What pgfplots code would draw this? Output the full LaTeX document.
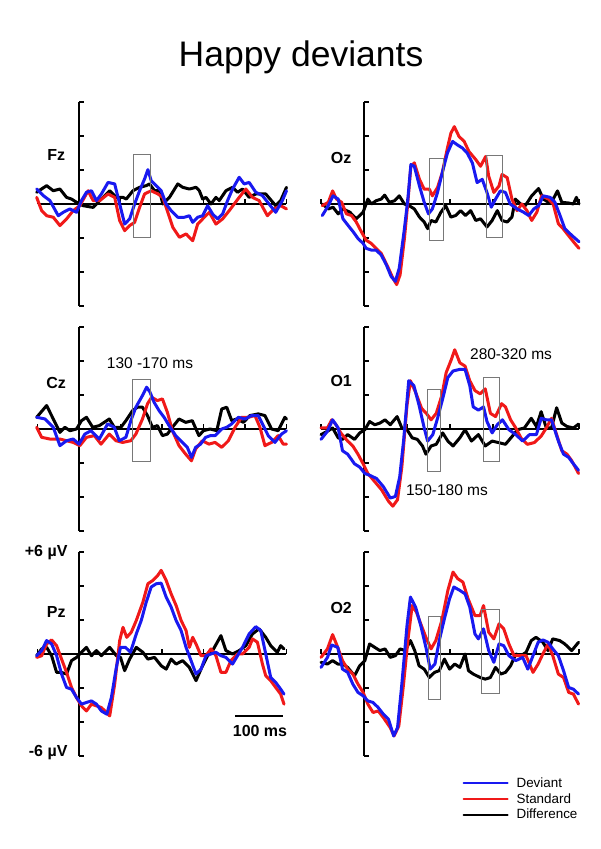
\documentclass[border=0pt]{standalone}
\usepackage{fontspec}
\setmainfont{Liberation Sans}
\usepackage{pgfplots}
\pgfplotsset{compat=1.18}
\definecolor{dev}{RGB}{25,25,240}
\definecolor{std}{RGB}{240,25,25}
\definecolor{win}{RGB}{120,120,120}

\pgfplotsset{
  erp/.style={scale only axis, anchor=south west,
    axis lines=middle, axis line style={-,line width=1.9pt},
    xmin=-100, xmax=500, ymin=-6, ymax=6, height=204pt,
    xtick={-100,0,...,500}, ytick={-6,-4,...,6},
    xticklabels={}, yticklabels={},
    tick align=inside, major tick length=5pt,
    every tick/.style={black,line width=1.3pt},
    clip=false},
  lcol/.style={width=249pt},
  rcol/.style={width=258pt},
}
\tikzset{
  dif/.style={black,line width=3pt,line join=round,line cap=round},
  sta/.style={std,line width=3pt,line join=round,line cap=round},
  dvt/.style={dev,line width=3pt,line join=round,line cap=round},
  box/.style={win,line width=1pt},
  lab/.style={font=\fontsize{16}{19}\selectfont\bfseries},
  ann/.style={font=\fontsize{15.5}{18}\selectfont},
}

\begin{document}
\begin{tikzpicture}
\useasboundingbox (0,0) rectangle (600pt,849pt);

\node[anchor=base,font=\fontsize{35.5}{40}\selectfont] at (301pt,782pt) {Happy deviants};

% ---------------- Fz
\begin{axis}[erp,lcol,at={(37.5pt,543pt)}]
\addplot[dif] coordinates {(-102,0.69) (-78,1.08) (-62,0.78) (-46,0.88) (-30,0.39) (-18,0.29) (-6,0.10) (10,-0.10) (34,-0.20) (50,0.20) (74,0.78) (90,0.39) (106,0.39) (114,0.29) (130,0.78) (146,0.98) (162,1.08) (170,1.18) (182,0.78) (194,0.78) (202,0) (218,0.39) (238,1.18) (250,0.98) (266,0.88) (282,0.98) (290,0.78) (298,0.29) (306,0.39) (318,0) (330,0.39) (338,0.20) (354,0.78) (370,0.98) (382,0.69) (394,0.88) (410,0.39) (426,0.59) (450,0.59) (474,-0.10) (486,0.20) (500,0.98)};
\addplot[sta] coordinates {(-102,0.39) (-90,-0.39) (-78,-0.69) (-62,-0.78) (-46,-1.27) (-30,-0.88) (-14,-0.39) (2,-0.10) (22,0.78) (34,0.20) (50,0.20) (70,0.59) (86,0.39) (98,-0.98) (110,-1.57) (122,-1.27) (134,-1.08) (146,-0.20) (158,0.59) (174,0.78) (190,0.59) (202,0.39) (214,-0.49) (226,-1.37) (242,-1.96) (258,-1.76) (274,-2.16) (286,-1.18) (302,-0.78) (314,-0.49) (330,-1.18) (346,-0.88) (362,-0.39) (374,0) (386,0.39) (402,0.88) (418,0.39) (434,0.20) (454,-0.69) (470,-0.29) (486,-0.10) (500,-0.29)};
\addplot[dvt] coordinates {(-102,0.88) (-86,0.49) (-70,0.20) (-50,-0.69) (-38,-0.49) (-22,-0.29) (-6,-0.49) (6,0.20) (18,0.69) (30,0.78) (42,0.20) (54,0.59) (70,1.27) (86,1.18) (98,0) (110,-1.18) (122,-0.88) (134,0) (146,0.78) (158,1.47) (166,2.02) (174,1.37) (186,1.08) (198,0.78) (210,0) (222,-0.39) (238,-0.78) (254,-0.78) (266,-0.69) (274,-1.08) (286,-0.78) (298,-0.69) (310,-0.10) (322,-0.59) (334,-0.88) (346,-0.59) (358,0.20) (370,0.88) (386,1.57) (398,1.18) (410,1.27) (426,0.69) (442,0.49) (458,0) (474,-0.49) (490,0.20) (500,0.78)};
\draw[box] (axis cs:132,-1.95) rectangle (axis cs:173,2.9);
\node[lab] at (axis cs:-55,2.9) {Fz};
\end{axis}

% ---------------- Oz
\begin{axis}[erp,rcol,at={(321pt,543pt)}]
\addplot[dif] coordinates {(-97,0) (-83,-0.29) (-72,-0.19) (-60,-0.58) (-49,-0.29) (-33,-0.48) (-18,-0.87) (-2,-0.48) (9,0.29) (17,0) (28,0.19) (40,0.29) (48,0.52) (59,0.10) (71,0.19) (82,0.48) (94,0) (105,-0.10) (117,-0.29) (129,-0.77) (140,-1.06) (148,-1.45) (156,-0.97) (167,-1.06) (179,-0.48) (190,-0.10) (202,-0.77) (213,-0.68) (225,-0.39) (236,-0.68) (248,-0.39) (260,-0.97) (271,-0.87) (286,-1.35) (298,-0.97) (310,-0.39) (321,-0.97) (333,-1.06) (344,-0.77) (352,0.29) (364,0) (375,-0.10) (390,0.48) (406,0.91) (417,0.29) (429,0.10) (440,0.29) (450,0.77) (460,0.10) (475,0.06) (487,0) (494,0.39) (500,0)};
\addplot[sta] coordinates {(-97,-0.10) (-83,0.10) (-73,0.77) (-64,0.29) (-52,0.10) (-41,-0.58) (-29,-0.68) (-18,-1.06) (-6,-1.64) (5,-2.13) (17,-2.32) (28,-2.61) (40,-2.90) (55,-3.68) (67,-4.35) (76,-4.74) (84,-4.16) (94,-2.03) (102,0.10) (109,2.22) (117,2.42) (129,1.45) (140,0.87) (152,0.87) (159,0.48) (171,0.97) (182,1.84) (194,3.29) (202,4.16) (210,4.55) (221,3.97) (233,3.68) (244,3.09) (260,2.61) (271,2.22) (283,2.80) (290,1.64) (302,0.68) (314,1.06) (321,1.74) (333,1.55) (344,0.29) (356,-0.39) (367,0) (379,-0.39) (390,-0.97) (402,-0.48) (413,0.48) (429,0.29) (440,0) (452,-1.16) (463,-1.45) (475,-1.84) (487,-2.22) (500,-2.61)};
\addplot[dvt] coordinates {(-97,-0.68) (-83,-0.10) (-72,0.48) (-60,0.29) (-49,-0.87) (-37,-1.26) (-25,-1.64) (-14,-2.03) (-2,-2.32) (5,-2.61) (17,-2.71) (28,-2.71) (40,-3.00) (52,-3.58) (63,-4.26) (73,-4.55) (82,-3.77) (94,-1.45) (102,0.29) (109,2.32) (117,2.22) (129,1.06) (140,0.10) (150,-0.58) (159,-0.29) (171,0.68) (182,1.84) (194,3.00) (206,3.68) (217,3.48) (229,3.29) (240,3.00) (252,2.42) (263,1.26) (275,1.45) (286,0.68) (296,-0.19) (306,0.29) (317,0.77) (329,0.68) (340,0) (356,-0.29) (371,-0.48) (383,-0.68) (395,-0.29) (406,-0.10) (417,0.48) (433,0.39) (444,0.10) (456,-0.68) (467,-1.45) (483,-1.84) (500,-2.22)};
\draw[box] (axis cs:153,-2.15) rectangle (axis cs:184,2.7);
\draw[box] (axis cs:286,-2.0) rectangle (axis cs:323,2.85);
\node[lab] at (axis cs:-53,2.7) {Oz};
\end{axis}

% ---------------- Cz
\begin{axis}[erp,lcol,at={(37.5pt,318pt)}]
\addplot[dif] coordinates {(-102,0.69) (-78,1.38) (-62,0.59) (-46,-0.20) (-34,0.10) (-22,-0.10) (-6,0) (6,0.49) (18,0.69) (33,0.10) (49,0.20) (73,0.59) (85,0.10) (101,0.10) (113,0.49) (129,1.08) (141,1.28) (153,1.28) (165,0.79) (177,0.10) (189,0.20) (201,-0.39) (213,-0.30) (225,0.10) (241,0.59) (257,0.39) (273,0.49) (289,-0.39) (300,-0.10) (316,0) (332,-0.10) (344,1.18) (356,1.28) (368,0.49) (380,0.59) (396,0.39) (412,0.79) (432,0.89) (448,0.79) (464,0) (480,-0.10) (496,0.69) (500,0.59)};
\addplot[sta] coordinates {(-102,0.10) (-90,-0.49) (-70,-0.59) (-46,-0.59) (-30,-0.69) (-14,-0.79) (2,-0.98) (18,-0.49) (37,-0.39) (53,-0.89) (73,-0.30) (89,-0.69) (105,-0.79) (125,-0.69) (137,-0.30) (153,0.59) (165,1.48) (175,1.87) (189,1.67) (201,1.77) (213,0.98) (225,-0.10) (241,-0.98) (257,-1.48) (271,-1.87) (281,-1.18) (297,-0.69) (313,-0.89) (328,-0.79) (344,-1.08) (360,-0.69) (376,0.10) (392,0.69) (408,0.69) (424,0.79) (436,0.10) (448,-0.98) (464,-0.79) (480,-0.39) (492,-0.89) (500,-0.89)};
\addplot[dvt] coordinates {(-102,0.69) (-82,0.59) (-62,0.10) (-46,-0.98) (-30,-0.69) (-14,-0.59) (0,-0.89) (14,-0.30) (29,-0.10) (49,-0.59) (69,0.30) (85,0.10) (97,-0.69) (113,-0.49) (125,0.49) (137,1.28) (153,1.97) (163,2.46) (171,2.17) (181,1.57) (193,1.08) (205,0.69) (217,0.20) (233,-0.39) (249,-0.79) (261,-1.08) (271,-1.67) (281,-1.08) (293,-0.89) (305,-0.49) (317,-0.39) (328,-0.39) (344,0) (356,0.10) (368,0.30) (384,0.69) (400,0.59) (416,0.79) (432,0.79) (444,0.20) (456,-0.39) (472,-0.79) (488,-0.30) (500,-0.10)};
\draw[box] (axis cs:130,-1.9) rectangle (axis cs:173,2.9);
\node[lab] at (axis cs:-55,2.7) {Cz};
\node[ann] at (axis cs:171,3.9) {130 -170 ms};
\end{axis}

% ---------------- O1
\begin{axis}[erp,rcol,at={(321pt,318pt)}]
\addplot[dif] coordinates {(-100,-0.33) (-85,-0.13) (-73,0.06) (-60,-0.52) (-50,-0.61) (-38,-0.33) (-22,-0.61) (-10,-0.23) (2,-0.04) (13,0.44) (25,0.25) (37,0.35) (49,0.54) (61,0.25) (77,0.73) (88,0.06) (100,-0.04) (112,-0.52) (124,-0.61) (136,-1.00) (144,-1.48) (156,-1.00) (168,-0.90) (183,-0.23) (195,-0.71) (207,-1.00) (223,-0.52) (235,-0.04) (250,-0.71) (266,-0.33) (282,-1.00) (298,-0.71) (313,-0.80) (329,-0.90) (345,-0.42) (357,-0.04) (373,0.06) (389,0.63) (401,0.15) (412,1.02) (424,0.06) (436,0.06) (448,1.25) (460,0.35) (472,0.15) (487,0.06) (499,0.29)};
\addplot[sta] coordinates {(-100,0.06) (-85,0.06) (-75,0.54) (-65,0.25) (-54,-0.23) (-38,-0.71) (-26,-1.00) (-14,-1.48) (-2,-2.05) (9,-2.62) (25,-3.10) (41,-3.58) (57,-4.25) (67,-4.54) (78,-4.16) (88,-2.24) (100,1.40) (108,2.84) (120,2.16) (134,1.21) (145,0.92) (156,0.54) (168,0.92) (181,1.97) (191,3.31) (203,4.08) (211,4.66) (223,3.89) (235,3.70) (246,2.84) (258,2.26) (270,2.07) (282,2.36) (294,0.92) (306,0.73) (320,1.49) (329,1.30) (341,0.54) (353,0.06) (365,-0.52) (380,-0.90) (396,-0.80) (412,-0.42) (424,0.06) (436,0.63) (448,-0.33) (460,-1.28) (472,-1.48) (483,-1.86) (499,-2.62)};
\addplot[dvt] coordinates {(-100,-0.61) (-85,-0.13) (-73,0.54) (-60,0.06) (-50,-1.28) (-38,-1.48) (-22,-2.05) (-10,-2.24) (2,-2.62) (13,-2.72) (29,-2.91) (45,-3.39) (61,-4.06) (73,-3.97) (83,-2.82) (92,-0.71) (104,2.84) (116,2.55) (128,1.40) (140,0.06) (148,-0.71) (160,-0.33) (171,0.63) (183,1.78) (195,3.03) (207,3.41) (223,3.51) (235,3.51) (246,2.55) (254,1.30) (266,1.11) (278,1.30) (286,0.44) (298,-0.23) (310,0.25) (322,0.54) (337,-0.04) (353,-0.33) (369,-0.71) (385,-0.33) (401,-0.33) (412,0.63) (424,0.54) (436,0.54) (452,-0.71) (464,-1.48) (476,-1.67) (487,-2.05) (499,-2.43)};
\draw[box] (axis cs:147,-2.5) rectangle (axis cs:179,2.3);
\draw[box] (axis cs:277,-1.9) rectangle (axis cs:314,3.0);
\node[lab] at (axis cs:-53,2.8) {O1};
\node[ann] at (axis cs:342,4.4) {280-320 ms};
\node[ann] at (axis cs:193,-3.6) {150-180 ms};
\end{axis}

% ---------------- Pz
\begin{axis}[erp,lcol,at={(37.5pt,93pt)}]
\addplot[dif] coordinates {(-102,-0.10) (-90,0.30) (-78,0.39) (-66,-0.10) (-54,-1.08) (-42,-1.08) (-30,-1.18) (-18,-0.39) (-6,-0.20) (6,0.10) (18,0.39) (30,-0.10) (42,0.20) (54,-0.10) (74,0.39) (90,-0.10) (100,-0.20) (110,-0.98) (122,-0.30) (138,0.39) (154,0.10) (166,-0.30) (182,-0.20) (198,-0.69) (210,-0.89) (222,-0.30) (234,-0.59) (250,-0.39) (266,-0.79) (282,-1.57) (294,-0.89) (310,-0.10) (322,0.20) (342,1.08) (354,0.20) (370,0) (386,0.20) (402,0.49) (418,1.18) (434,1.48) (450,0.98) (462,0.49) (478,0.10) (486,0.49) (494,0.30)};
\addplot[sta] coordinates {(-102,-0.20) (-90,-0.10) (-78,0.59) (-66,0.83) (-54,0.49) (-42,-0.30) (-30,-1.08) (-18,-1.97) (-6,-2.56) (6,-3.05) (18,-3.35) (30,-2.95) (42,-3.05) (54,-3.15) (66,-3.44) (74,-3.64) (86,-1.77) (98,0.79) (106,1.57) (115,0.98) (126,1.28) (138,1.97) (154,3.05) (166,4.13) (178,4.33) (190,4.63) (198,4.92) (210,4.33) (222,3.54) (234,2.85) (246,1.97) (258,1.38) (266,0.39) (274,0.98) (282,0.59) (294,-0.10) (306,-0.10) (318,0.30) (330,-0.10) (342,-1.08) (354,-1.08) (366,-0.39) (382,0) (394,0) (410,0.39) (418,0.89) (430,0.69) (442,-0.59) (450,-1.28) (462,-1.57) (474,-1.97) (486,-2.36) (494,-2.95)};
\addplot[dvt] coordinates {(-102,-0.10) (-90,0.20) (-78,0.79) (-66,0.59) (-54,-0.10) (-42,-1.18) (-30,-1.97) (-18,-2.07) (-6,-2.56) (6,-2.95) (18,-2.85) (30,-2.76) (42,-2.95) (54,-3.35) (67,-3.54) (78,-2.56) (90,-0.79) (100,0.39) (112,0.39) (124,0.10) (138,1.18) (150,1.97) (162,3.05) (174,3.94) (186,4.13) (198,4.17) (210,3.35) (222,2.76) (234,1.97) (246,1.38) (258,0.39) (270,-0.39) (282,-1.18) (294,-0.89) (306,-0.10) (318,0) (330,0.10) (342,-0.10) (354,-0.20) (370,-0.59) (382,-0.10) (394,0.39) (410,1.18) (426,1.61) (438,1.38) (450,0) (462,-1.38) (474,-1.67) (486,-2.07) (494,-2.36)};
\node[lab] at (axis cs:-55,2.5) {Pz};
\end{axis}

% ---------------- O2
\begin{axis}[erp,rcol,at={(321pt,93pt)},
  legend style={at={(0.548,-0.095)},anchor=north west,draw=none,fill=none,
    font=\fontsize{13.4}{16}\selectfont,row sep=0.5pt,inner sep=0pt,
    column sep=6pt},
  legend cell align=left,
  legend image code/.code={\draw[#1,line width=2pt] (0pt,0pt) -- (44pt,0pt);}]
\addplot[dif,forget plot] coordinates {(-100,-0.49) (-85,-0.59) (-73,-0.39) (-61,-0.59) (-50,-0.59) (-38,-0.79) (-22,-1.28) (-10,-0.69) (2,-0.39) (13,0.59) (25,0.39) (37,0.20) (49,0.30) (61,-0.20) (73,-0.10) (84,0.30) (96,0.20) (108,0.79) (118,0.20) (128,-0.69) (140,-0.89) (152,-1.38) (164,-1.08) (175,-0.98) (187,-0.30) (199,-0.89) (211,-0.59) (223,-0.79) (235,0) (243,-0.98) (254,-1.18) (270,-1.38) (282,-1.48) (294,-1.38) (306,-0.79) (318,-1.18) (329,-1.08) (341,-0.69) (353,0) (365,-0.10) (377,0.10) (389,0.79) (400,0.98) (416,0.69) (428,0.20) (439,0.89) (455,0.79) (467,0.59) (483,0.20) (499,0.69)};
\addplot[sta,forget plot] coordinates {(-100,-0.20) (-85,0.30) (-73,1.14) (-61,0.39) (-50,-0.39) (-38,-0.89) (-26,-1.18) (-14,-1.77) (-2,-2.26) (9,-2.95) (21,-3.44) (33,-3.35) (45,-3.74) (61,-4.33) (70,-4.82) (81,-4.23) (92,-1.77) (102,0.79) (112,2.85) (122,2.46) (132,1.77) (144,0.98) (156,0.30) (167,0.79) (181,1.97) (195,3.74) (207,4.82) (218,4.43) (230,4.23) (242,3.25) (258,2.26) (270,2.26) (278,2.85) (290,1.28) (302,0.89) (314,1.77) (325,1.48) (337,0.59) (349,-0.10) (361,-0.10) (377,-0.10) (393,-1.08) (405,-0.59) (416,0) (428,0.59) (439,-0.10) (452,-1.18) (464,-1.38) (476,-2.26) (487,-2.36) (499,-2.95)};
\addplot[dvt,forget plot] coordinates {(-100,-0.79) (-85,-0.20) (-75,0.53) (-61,0.39) (-50,-0.89) (-38,-1.08) (-26,-1.77) (-14,-2.26) (-2,-2.46) (9,-2.76) (21,-2.85) (33,-3.15) (45,-3.54) (57,-3.84) (69,-4.82) (78,-4.33) (88,-1.77) (100,1.67) (108,3.35) (120,2.76) (132,1.67) (144,0.39) (154,-0.89) (165,-0.59) (175,0.79) (187,2.07) (199,3.25) (209,3.94) (223,3.74) (235,3.54) (246,2.76) (258,1.18) (266,0.89) (278,1.48) (290,0.20) (302,-0.49) (314,0.59) (325,0.49) (337,-0.10) (353,-0.39) (369,-0.20) (381,-0.89) (393,-0.10) (405,0.69) (416,0.83) (428,0.69) (439,0.30) (452,-0.10) (464,-0.98) (476,-1.97) (487,-2.07) (499,-2.36)};
\draw[box] (axis cs:149,-2.7) rectangle (axis cs:179,2.2);
\draw[box] (axis cs:274,-2.3) rectangle (axis cs:314,2.6);
\node[lab] at (axis cs:-53,2.7) {O2};
\addlegendimage{dvt}\addlegendentry{Deviant}
\addlegendimage{sta}\addlegendentry{Standard}
\addlegendimage{dif}\addlegendentry{Difference}
\end{axis}

% scale labels
\node[lab,anchor=east] at (71pt,296pt) {+6 µV};
\node[lab,anchor=east] at (71pt,96pt) {-6 µV};
\draw[line width=2pt] (235pt,133pt) -- (283pt,133pt);
\node[lab] at (260pt,118pt) {100 ms};
\end{tikzpicture}
\end{document}
